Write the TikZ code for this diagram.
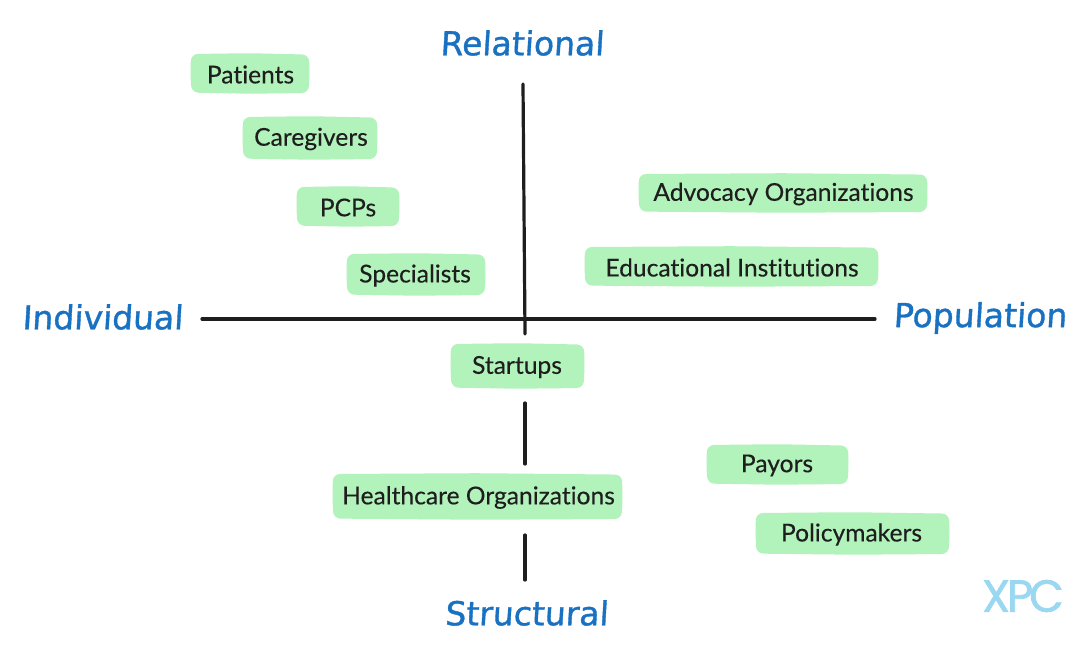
\documentclass[tikz,border=0pt]{standalone}
\usepackage{fontspec}
\setmainfont{Lato}[FakeBold=0.25,Ligatures=NoCommon]
\newfontfamily\hand{DejaVu Sans}[FakeSlant=0.06,FakeBold=1.1]
\newfontfamily\logo{Poppins}[FakeBold=1.6]
\definecolor{boxgreen}{HTML}{B2F2BB}
\definecolor{axisblue}{HTML}{1971C2}
\definecolor{ink}{HTML}{1E1E1E}
\definecolor{logoblue}{HTML}{9AD8F2}
\tikzset{
  x=1pt,y=-1pt,
  tagtext/.style={inner sep=0pt,text=ink,font=\fontsize{24.6}{28}\selectfont},
  axislabel/.style={text=axisblue,font=\hand\fontsize{33}{38}\selectfont,inner sep=0pt},
  axisline/.style={draw=ink,line width=3.2pt,line cap=round},
}
\newcommand{\tagnode}[7]{% name, x0,y0,x1,y1,text centre x,text
  \path[fill=boxgreen,rounded corners=7pt] (#2,#3) -- ({(#2+#4)/2},#3-0.8) -- (#4,#3+0.6) -- (#4+0.6,{(#3+#5)/2}) -- (#4-0.4,#5) -- ({(#2+#4)/2},#5+0.7) -- (#2+0.4,#5-0.4) -- (#2-0.6,{(#3+#5)/2}) -- cycle;
  \node[tagtext] (#1) at (#6,{(#3+#5)/2+1}) {#7};
}
\begin{document}
\begin{tikzpicture}
\useasboundingbox (0,0) rectangle (1088,649);
\node[axislabel] (rel) at (522,43) {Relational};
\node[axislabel] (ind) at (102.5,317) {Individual};
\node[axislabel] (pop) at (980,318) {Population};
\node[axislabel] (str) at (526.5,613) {Structural};
\coordinate (vtop) at (523,84);
\coordinate (vmid) at (525,334);
\coordinate (v2a) at (525,403);
\coordinate (v2b) at (525,464);
\coordinate (v3a) at (525,535);
\coordinate (v3b) at (525,580);
\coordinate (hl) at (202,319);
\coordinate (hr) at (875,319);
\draw[axisline] (hl) -- (hr);
\draw[axisline] (vtop) -- (vmid);
\draw[axisline] (v2a) -- (v2b);
\draw[axisline] (v3a) -- (v3b);
\tagnode{patients}{191}{54}{309}{93}{250.5}{Patients}
\tagnode{caregivers}{243}{117}{377}{159}{311}{Caregivers}
\tagnode{pcps}{297}{187}{399}{226}{348}{PCPs}
\tagnode{specialists}{347}{254}{485}{295}{415}{Specialists}
\tagnode{advocacy}{639}{174}{927}{212}{783.5}{Advocacy Organizations}
\tagnode{educational}{585}{247}{878}{286}{732}{Educational Institutions}
\tagnode{startups}{451}{344}{584}{388}{517}{Startups}
\tagnode{healthcare}{333}{474}{622}{519}{478.5}{Healthcare Organizations}
\tagnode{payors}{707}{445}{848}{484}{777}{Payors}
\tagnode{policymakers}{756}{513}{949}{554}{851.5}{Policymakers}
\node[inner sep=0pt,text=logoblue,font=\logo\fontsize{45}{47}\selectfont] (xpc) at (1023,596) {X\kern-3pt P\kern-4pt C};
\end{tikzpicture}
\end{document}
